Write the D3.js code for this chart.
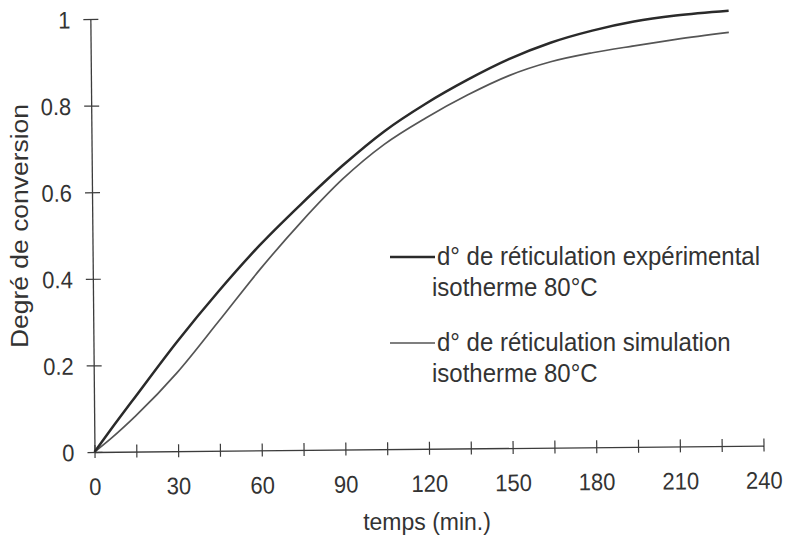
<!DOCTYPE html>
<html>
<head>
<meta charset="utf-8">
<script src="https://cdn.jsdelivr.net/npm/d3@7/dist/d3.min.js"></script>
<style>
  html, body { margin: 0; padding: 0; background: #fff; }
  svg { display: block; }
</style>
</head>
<body>
<script>
// ---- data ----
const times = [0, 6, 15, 30, 45, 60, 75, 90, 105, 120, 135, 150, 165, 180, 195, 210, 229];
const experimental = [0, 0.052, 0.128, 0.253, 0.368, 0.474, 0.568, 0.656, 0.734, 0.797, 0.851, 0.898, 0.935, 0.962, 0.982, 0.995, 1.005];
const simulation = [0, 0.031, 0.083, 0.182, 0.299, 0.418, 0.527, 0.625, 0.704, 0.764, 0.816, 0.860, 0.891, 0.911, 0.926, 0.940, 0.955];
const xTicks = [0, 15, 30, 45, 60, 75, 90, 105, 120, 135, 150, 165, 180, 195, 210, 225, 240];
const xLabels = [0, 30, 60, 90, 120, 150, 180, 210, 240];
const yTicks = [0, 0.2, 0.4, 0.6, 0.8, 1];
const yLabels = ["0", "0.2", "0.4", "0.6", "0.8", "1"];
const xTitle = "temps (min.)";
const yTitle = "Degré de conversion";
const legendLines = [
  ["d° de réticulation expérimental", "isotherme 80°C"],
  ["d° de réticulation simulation", "isotherme 80°C"]
];

// ---- setup ----
const W = 787, H = 537;
const FONT = "'Liberation Sans', Arial, Helvetica, sans-serif";
const TXT = "#333";
const AX = "#3c3c3c";
const SY = 1.08; // slight vertical stretch of the scanned text

const svg = d3.select("body").append("svg")
  .attr("width", W).attr("height", H)
  .style("background", "#fff");

const x = d3.scaleLinear().domain([0, 240]).range([94.5, 763.5]);
const y = d3.scaleLinear().domain([0, 1]).range([452, 19]);

const g = svg.append("g").attr("transform", `rotate(-0.55, ${x(0)}, ${y(0)})`);

// x axis
const gx = g.append("g")
  .attr("transform", `translate(0,${y(0)})`)
  .call(d3.axisBottom(x).tickValues(xTicks).tickSizeOuter(0)
    .tickFormat(d => xLabels.includes(d) ? String(d) : ""));
gx.select(".domain").attr("stroke", AX).attr("stroke-width", 1.3);
gx.selectAll(".tick line").attr("y1", -7).attr("y2", 6).attr("stroke", AX).attr("stroke-width", 1.2);
gx.selectAll(".tick text")
  .attr("y", null).attr("dy", null)
  .attr("transform", `translate(0,43) scale(1,${SY})`)
  .attr("font-family", FONT).attr("font-size", 22).attr("fill", TXT)
  .attr("text-anchor", "middle");

// y axis
const gy = g.append("g")
  .attr("transform", `translate(${x(0)},0)`)
  .call(d3.axisLeft(y).tickValues(yTicks).tickSizeOuter(0)
    .tickFormat((d, i) => yLabels[i]));
gy.select(".domain").attr("stroke", AX).attr("stroke-width", 1.3);
gy.selectAll(".tick line").attr("x1", -7).attr("x2", 8).attr("stroke", AX).attr("stroke-width", 1.2);
gy.selectAll(".tick text")
  .attr("x", null).attr("dy", null)
  .attr("transform", `translate(-20,0) scale(1,${SY})`)
  .attr("dy", "0.36em")
  .attr("font-family", FONT).attr("font-size", 22).attr("fill", TXT)
  .attr("text-anchor", "end");
gx.attr("font-family", FONT); gy.attr("font-family", FONT);

// curves
const line = d3.line().x(d => x(d[0])).y(d => y(d[1])).curve(d3.curveMonotoneX);
g.append("path")
  .datum(times.map((t, i) => [t, simulation[i]]))
  .attr("d", line).attr("fill", "none")
  .attr("stroke", "#555").attr("stroke-width", 1.7);
g.append("path")
  .datum(times.map((t, i) => [t, experimental[i]]))
  .attr("d", line).attr("fill", "none")
  .attr("stroke", "#2a2a2a").attr("stroke-width", 2.5);

// axis titles
svg.append("text")
  .attr("transform", `translate(427,530) scale(1,${SY})`)
  .attr("text-anchor", "middle")
  .attr("font-family", FONT).attr("font-size", 23).attr("fill", TXT)
  .text(xTitle);
svg.append("text")
  .attr("transform", `translate(28,226) rotate(-90) scale(${SY},1)`)
  .attr("text-anchor", "middle")
  .attr("font-family", FONT).attr("font-size", 24.5).attr("fill", TXT)
  .text(yTitle);

// legend
const legY = [257, 343];
const legStroke = [["#2a2a2a", 2.5], ["#555", 1.7]];
const legText = [[265, 296], [351, 382]];
legendLines.forEach((lines, i) => {
  svg.append("line")
    .attr("x1", 390).attr("x2", 435).attr("y1", legY[i]).attr("y2", legY[i])
    .attr("stroke", legStroke[i][0]).attr("stroke-width", legStroke[i][1]);
  svg.append("text")
    .attr("transform", `translate(437,${legText[i][0]}) scale(1,${SY})`)
    .attr("font-family", FONT).attr("font-size", 24).attr("fill", TXT)
    .text(lines[0]);
  svg.append("text")
    .attr("transform", `translate(432,${legText[i][1]}) scale(1,${SY})`)
    .attr("font-family", FONT).attr("font-size", 24).attr("fill", TXT)
    .text(lines[1]);
});
</script>
</body>
</html>
